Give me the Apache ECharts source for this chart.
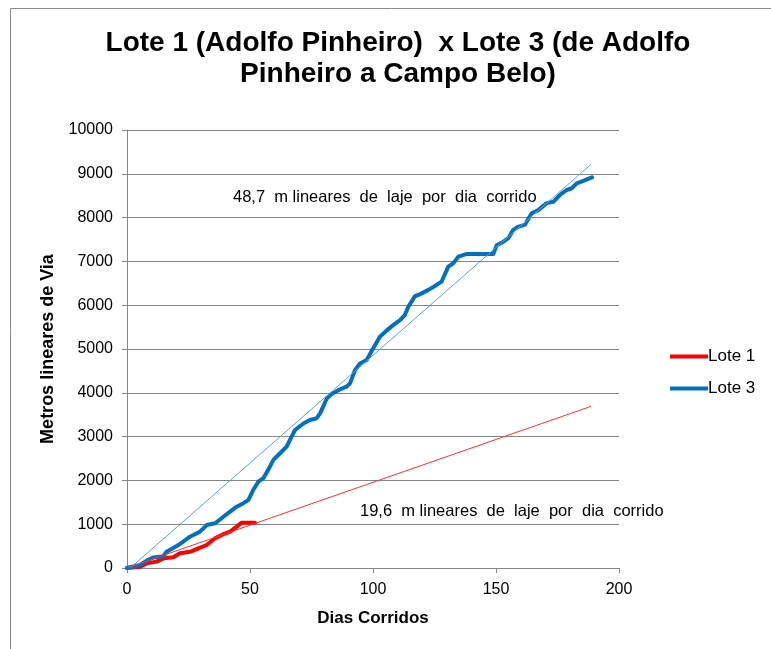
<!DOCTYPE html>
<html>
<head>
<meta charset="utf-8">
<script src="https://cdn.jsdelivr.net/npm/echarts@6/dist/echarts.min.js"></script>
<style>
html,body{margin:0;padding:0;background:#fff;}
#chart{width:771px;height:649px;}
</style>
</head>
<body>
<div id="chart"></div>
<script>
// Lote 3 (de Adolfo Pinheiro a Campo Belo)
var lote3Dias = [0,0.5,5.3,8,10.7,14.8,16.1,20.9,25.6,29.7,32.4,35.8,39.2,41.9,44.6,47.3,49.3,51.3,53.4,55.4,57.4,59.5,62.2,64.9,66.9,68.3,71.7,74.4,77.1,78.5,81.2,83.2,86.6,89.3,90.7,92.7,94.7,97.4,100.1,102.8,105.5,108.3,111,113,114.4,117,119.8,122.5,125.2,127.9,130.6,132.7,134.7,138.1,142.2,148.9,150.3,153,155,157,159,161.8,164.5,167.2,170.6,173.3,176,178.7,180.8,182.8,185.5,188.2,189];
var lote3Metros = [0,15,70,170,240,270,370,525,715,830,980,1020,1170,1285,1400,1480,1550,1780,1970,2050,2240,2470,2620,2770,3000,3150,3300,3380,3420,3530,3870,3970,4080,4140,4220,4520,4670,4750,5015,5280,5420,5550,5660,5780,5970,6200,6270,6350,6440,6540,6880,6960,7110,7170,7170,7170,7370,7450,7530,7720,7790,7840,8100,8170,8330,8360,8520,8630,8670,8780,8840,8900,8920];
// Lote 1 (Adolfo Pinheiro)
var lote1Dias = [0,0.5,5.3,8,12,14.8,18.8,21.5,25.6,29,32.4,35.8,38.5,41.9,44.6,46.6,49.3,52];
var lote1Metros = [0,0,30,105,145,220,245,335,370,450,525,680,755,830,945,1035,1035,1035];
// linhas de tendencia
var tend3Dias = [1.3,188.6];
var tend3Metros = [0,9215];
var tend1Dias = [0,188.6];
var tend1Metros = [0,3690];

var xTicks = [0,50,100,150,200];
var yTicks = [0,1000,2000,3000,4000,5000,6000,7000,8000,9000,10000];

function pares(xs,ys){
  var out=[];
  for(var i=0;i<xs.length;i++){ out.push([xs[i],ys[i]]); }
  return out;
}

var fonte = '"Liberation Sans", Arial, sans-serif';
var cinza = '#868686';

var chart = echarts.init(document.getElementById('chart'));
chart.setOption({
  animation:false,
  backgroundColor:'#fff',
  textStyle:{fontFamily:fonte},
  title:{
    text:'Lote 1 (Adolfo Pinheiro)  x Lote 3 (de Adolfo\nPinheiro a Campo Belo)',
    left:393, top:23, textAlign:'center',
    textStyle:{fontSize:28,fontWeight:'bold',color:'#000',lineHeight:31,fontFamily:fonte}
  },
  legend:{
    data:['Lote 1','Lote 3'],
    orient:'vertical',
    left:665, top:343,
    itemWidth:38, itemHeight:4, itemGap:15,
    icon:'rect',
    textStyle:{fontSize:17,color:'#000',padding:[0,0,0,-5]}
  },
  grid:{left:127,right:152,top:130,bottom:81},
  xAxis:{
    type:'value', min:xTicks[0], max:xTicks[xTicks.length-1], interval:50,
    name:'Dias Corridos', nameLocation:'middle', nameGap:42,
    nameTextStyle:{fontSize:17,fontWeight:'bold',color:'#000'},
    axisLine:{lineStyle:{color:cinza}},
    axisTick:{show:true,length:5,lineStyle:{color:cinza}},
    axisLabel:{fontSize:16,color:'#000',margin:14},
    splitLine:{show:false}
  },
  yAxis:{
    type:'value', min:yTicks[0], max:yTicks[yTicks.length-1], interval:1000,
    name:'Metros lineares de Via', nameLocation:'middle', nameGap:70,
    nameTextStyle:{fontSize:18,fontWeight:'bold',color:'#000'},
    axisLine:{show:true,lineStyle:{color:cinza}},
    axisTick:{show:true,length:5,lineStyle:{color:cinza}},
    axisLabel:{fontSize:16,color:'#000',margin:14,formatter:function(v){return String(v);}},
    splitLine:{show:true,lineStyle:{color:cinza,width:1}}
  },
  graphic:[
    {type:'rect',shape:{x:10.5,y:8.5,width:800,height:700},style:{fill:'none',stroke:'#8c8c8c',lineWidth:1},silent:true},
    {type:'text',left:233,top:189,style:{text:'48,7  m lineares  de  laje  por  dia  corrido',font:'16.5px '+fonte,fill:'#000'}},
    {type:'text',left:360,top:503,style:{text:'19,6  m lineares  de  laje  por  dia  corrido',font:'16.5px '+fonte,fill:'#000'}}
  ],
  series:[
    {name:'tend3',type:'line',data:pares(tend3Dias,tend3Metros),showSymbol:false,
     lineStyle:{color:'#5aa3da',width:1},z:3},
    {name:'tend1',type:'line',data:pares(tend1Dias,tend1Metros),showSymbol:false,
     lineStyle:{color:'#ff3030',width:1},z:3},
    {name:'Lote 1',type:'line',data:pares(lote1Dias,lote1Metros),showSymbol:false,
     itemStyle:{color:'#ff0000'},lineStyle:{color:'#ff0000',width:4,cap:'round',join:'round'},z:2},
    {name:'Lote 3',type:'line',data:pares(lote3Dias,lote3Metros),showSymbol:false,
     itemStyle:{color:'#0070c0'},lineStyle:{color:'#0070c0',width:4,cap:'round',join:'round'},z:2}
  ]
});
</script>
</body>
</html>
